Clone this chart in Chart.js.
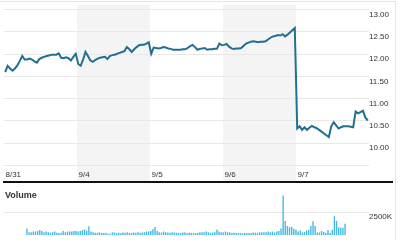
<!DOCTYPE html>
<html><head><meta charset="utf-8">
<script src="https://cdn.jsdelivr.net/npm/chart.js@4/dist/chart.umd.min.js"></script>
<style>
html,body{margin:0;padding:0;background:#fff;}
#wrap{position:relative;width:400px;height:240px;overflow:hidden;font-family:"Liberation Sans",Arial,sans-serif;}
#frame{position:absolute;left:0;top:1px;width:395px;height:260px;border-top:1px solid #e4e4e4;border-right:1px solid #e4e4e4;}
#pc{position:absolute;left:0;top:0;}
#sep{position:absolute;left:3px;top:181px;width:390px;height:2px;background:#111;}
#vt{position:absolute;left:5px;top:190px;font-weight:bold;font-size:9px;line-height:11px;color:#333;}
#vc{position:absolute;left:0;top:183px;}
</style></head>
<body><div id="wrap">
<div id="frame"></div>
<canvas id="pc" width="400" height="183"></canvas>
<div id="sep"></div>
<canvas id="vc" width="400" height="57"></canvas>
<div id="vt">Volume</div>
</div>
<script>
const days = ['8/31','9/4','9/5','9/6','9/7'];
const priceTicks = [9.5, 10, 10.5, 11, 11.5, 12, 12.5, 13];
const volumeTicks = [2500];
const price = [
11.60,11.74,11.68,11.63,11.68,11.75,11.85,11.96,11.88,11.88,
11.90,11.88,11.84,11.81,11.89,11.92,11.94,11.96,11.97,11.99,
11.99,11.99,12.02,11.92,11.91,11.93,11.91,11.86,11.94,12.01,
11.78,11.74,11.88,12.05,11.96,11.86,11.83,11.87,11.90,11.92,
11.93,11.94,11.89,11.96,11.98,11.99,12.01,12.03,12.05,12.07,
12.16,12.11,12.05,12.11,12.16,12.20,12.21,12.21,12.24,12.27,
12.01,12.15,12.14,12.13,12.14,12.16,12.15,12.13,12.12,12.10,
12.10,12.10,12.10,12.11,12.11,12.14,12.18,12.21,12.16,12.10,
12.12,12.13,12.14,12.10,12.11,12.11,12.12,12.12,12.24,12.20,
12.21,12.23,12.17,12.13,12.12,12.13,12.13,12.14,12.19,12.24,
12.26,12.28,12.29,12.28,12.27,12.28,12.28,12.29,12.33,12.37,
12.40,12.41,12.43,12.42,12.45,12.40,12.44,12.49,12.54,12.59,
10.33,10.38,10.30,10.36,10.30,10.35,10.39,10.36,10.34,10.30,
10.26,10.22,10.18,10.14,10.38,10.47,10.40,10.33,10.36,10.38,
10.38,10.38,10.37,10.36,10.71,10.67,10.70,10.73,10.58,10.51
];
const volumeK = [
720,330,330,390,390,460,560,460,330,390,330,260,330,390,260,230,260,460,330,390,390,390,460,460,390,460,560,620,460,980,
390,330,260,260,330,230,230,260,170,170,330,300,230,260,230,300,260,330,260,230,300,260,330,260,300,330,390,390,460,650,
880,460,330,300,390,330,300,260,330,300,260,260,230,300,330,230,260,230,200,230,230,330,330,330,390,330,260,300,330,620,
390,330,330,390,330,330,230,260,230,230,230,200,230,230,230,230,300,260,260,330,330,330,330,390,330,390,300,390,460,720,
4300,1550,1000,850,900,700,600,400,500,300,350,500,600,1000,1500,1000,300,300,450,350,250,550,250,600,2050,1550,850,800,800,1250
];

const perDay = price.length / days.length;
const FONT = {family:'"Liberation Sans", Arial, sans-serif', size:8};

const bandPlugin = {
  id:'bands',
  beforeDraw(chart){
    const {ctx, chartArea, scales:{x}} = chart;
    ctx.save();
    ctx.fillStyle = '#f4f4f4';
    days.forEach((d,k)=>{
      if (k % 2 === 1) {
        const a = x.getPixelForValue(k*perDay);
        const b = x.getPixelForValue((k+1)*perDay);
        ctx.fillRect(a, chartArea.top, b-a, chart.height - chartArea.top);
      }
    });
    ctx.restore();
  }
};

new Chart(document.getElementById('pc'), {
  type:'line',
  data:{datasets:[{
    data: price.map((p,i)=>({x:i+0.5, y:p})),
    borderColor:'#22708f', borderWidth:2, pointRadius:0, tension:0, fill:false
  }]},
  options:{
    responsive:false, animation:false, events:[],
    layout:{padding:{left:3, right:0, top:3, bottom:0}},
    plugins:{legend:{display:false}, tooltip:{enabled:false}},
    scales:{
      x:{type:'linear', min:0, max:price.length,
        grid:{display:false, drawTicks:false, tickLength:0}, border:{display:false},
        afterBuildTicks:s=>{ s.ticks = days.map((d,k)=>({value:k*perDay})); },
        afterFit:s=>{ s.height = 17.5; },
        ticks:{callback:v=>days[Math.round(v/perDay)], align:'start', labelOffset:1.5, padding:4,
          maxRotation:0, autoSkip:false, font:FONT, color:'#333'}
      },
      y:{position:'right', min:9.5, max:13.11,
        afterBuildTicks:s=>{ s.ticks = priceTicks.map(v=>({value:v})); },
        afterFit:s=>{ s.width = 31; },
        grid:{color:'#e8e8e8', drawTicks:false, lineWidth:1}, border:{display:false},
        ticks:{callback:v=> v>=10 ? Number(v).toFixed(2) : '', padding:0, labelOffset:5, font:FONT, color:'#333'}
      }
    }
  },
  plugins:[bandPlugin]
});

new Chart(document.getElementById('vc'), {
  type:'bar',
  data:{datasets:[{
    data: volumeK.map((v,i)=>({x:i+0.5, y:v})),
    backgroundColor:'#45b8e8', barPercentage:0.65, categoryPercentage:1
  }]},
  options:{
    responsive:false, animation:false, events:[],
    layout:{padding:{left:3, right:0, top:6, bottom:1}},
    plugins:{legend:{display:false}, tooltip:{enabled:false}},
    scales:{
      x:{type:'linear', min:0, max:volumeK.length, display:false},
      y:{position:'right', min:0, max:5000,
        afterBuildTicks:s=>{ s.ticks = volumeTicks.map(v=>({value:v})); },
        afterFit:s=>{ s.width = 31; },
        grid:{color:'#e8e8e8', drawTicks:false}, border:{display:false},
        ticks:{callback:v=>v+'K', padding:0, labelOffset:5, font:FONT, color:'#333'}
      }
    }
  }
});
</script>
</body></html>
